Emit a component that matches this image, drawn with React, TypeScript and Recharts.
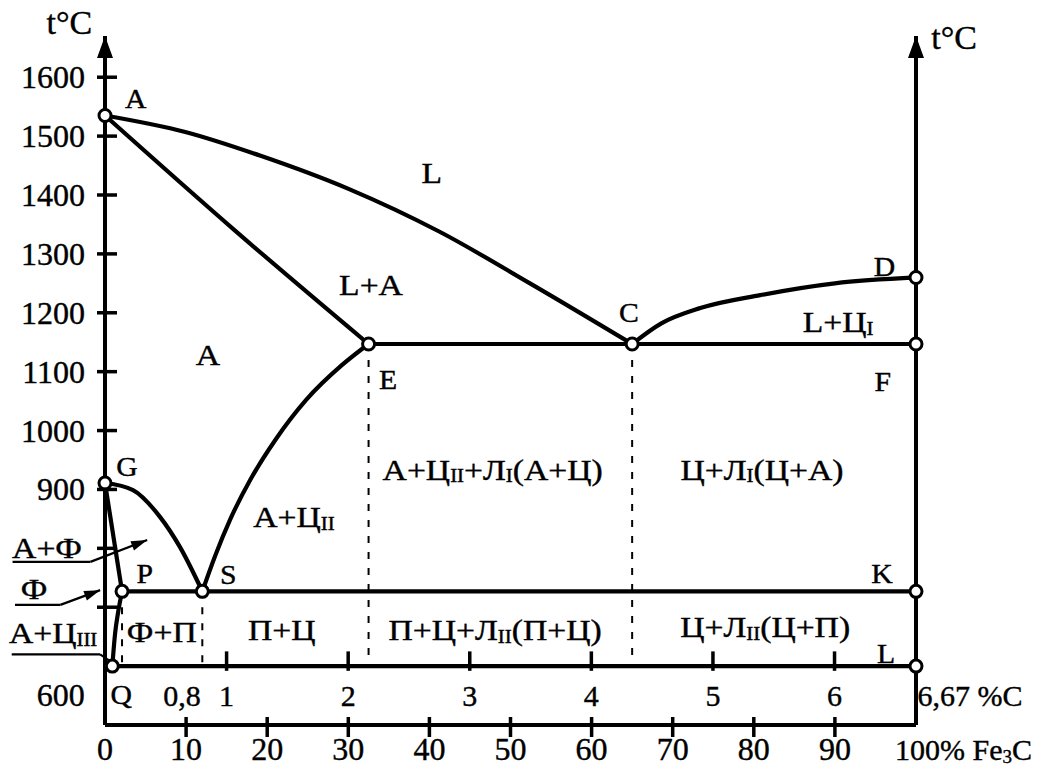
import { ComposedChart, Line, Scatter, XAxis, YAxis, ReferenceLine, ReferenceDot } from 'recharts';

// Fe–Fe3C diagram. c = % Fe3C (0..100), t = °C
const liquidusAC = [
  { c: 0, t: 1535 }, { c: 9.9, t: 1507 }, { c: 19.1, t: 1467 }, { c: 30.1, t: 1410 },
  { c: 41.2, t: 1338 }, { c: 52.4, t: 1250 }, { c: 65, t: 1147 },
];
const liquidusCD = [
  { c: 65, t: 1147 }, { c: 68.6, t: 1182 }, { c: 73.4, t: 1208 }, { c: 80.8, t: 1230 },
  { c: 90, t: 1250 }, { c: 100, t: 1260 },
];
const solidusAE = [{ c: 0, t: 1535 }, { c: 16, t: 1340 }, { c: 32.5, t: 1147 }];
const lineES = [
  { c: 12, t: 727 }, { c: 13.6, t: 788 }, { c: 15.4, t: 848 }, { c: 17.9, t: 916 },
  { c: 21, t: 984 }, { c: 24.8, t: 1052 }, { c: 29.2, t: 1111 }, { c: 32.5, t: 1147 },
];
const lineGS = [{ c: 0, t: 911 }, { c: 3.45, t: 899 }, { c: 6.8, t: 853 }, { c: 9.25, t: 802 }, { c: 12, t: 727 }];
const lineGP = [{ c: 0, t: 911 }, { c: 2.1, t: 727 }];
const linePQ = [{ c: 0.9, t: 600 }, { c: 1.25, t: 656 }, { c: 1.6, t: 690 }, { c: 2.1, t: 727 }];
const lineECF = [{ c: 32.5, t: 1147 }, { c: 100, t: 1147 }];
const linePSK = [{ c: 2.1, t: 727 }, { c: 100, t: 727 }];
const lineQL = [{ c: 0.9, t: 600 }, { c: 100, t: 600 }];

// dashed drops to the 600° line
const drops = [
  [{ c: 2.1, t: 727 }, { c: 2.1, t: 600 }],
  [{ c: 12, t: 727 }, { c: 12, t: 600 }],
  [{ c: 32.5, t: 1147 }, { c: 32.5, t: 600 }],
  [{ c: 65, t: 1147 }, { c: 65, t: 600 }],
];

const nodes = [
  { c: 0, t: 1535 }, { c: 0, t: 911 }, { c: 0.9, t: 600 }, { c: 2.1, t: 727 }, { c: 12, t: 727 },
  { c: 32.5, t: 1147 }, { c: 65, t: 1147 }, { c: 100, t: 1260 }, { c: 100, t: 1147 },
  { c: 100, t: 727 }, { c: 100, t: 600 },
];

const tempTicks = [700, 800, 900, 1000, 1100, 1200, 1300, 1400, 1500, 1600];
const rightTicks = [727, 1147, 1260];
const fe3cTicks = [0, 10, 20, 30, 40, 50, 60, 70, 80, 90, 100];
const carbonTicks = [1, 2, 3, 4, 5, 6];
const C_MAX = 6.67;

// letters next to the nodes
const pointLabels = [
  { text: 'A', c: 3.8, t: 1564 }, { text: 'E', c: 34.9, t: 1086 }, { text: 'C', c: 64.6, t: 1201 },
  { text: 'D', c: 96.1, t: 1279 }, { text: 'F', c: 95.9, t: 1084 }, { text: 'G', c: 2.7, t: 939 },
  { text: 'P', c: 4.9, t: 758 }, { text: 'S', c: 15.2, t: 756 }, { text: 'K', c: 95.8, t: 758 },
  { text: 'L', c: 96.3, t: 622 }, { text: 'Q', c: 2.0, t: 551 },
];

// phase fields, "_" toggles subscript
const phaseLabels = [
  { text: 'L', c: 40.3, t: 1437 },
  { text: 'L+А', c: 32.8, t: 1247 },
  { text: 'А', c: 12.7, t: 1128 },
  { text: 'L+Ц_I', c: 90.4, t: 1184 },
  { text: 'А+Ц_II', c: 23.3, t: 853 },
  { text: 'А+Ц_II_+Л_I_(А+Ц)', c: 47.8, t: 933 },
  { text: 'Ц+Л_I_(Ц+А)', c: 81.0, t: 933 },
  { text: 'Ф+П', c: 7.0, t: 658 },
  { text: 'П+Ц', c: 21.8, t: 661 },
  { text: 'П+Ц+Л_II_(П+Ц)', c: 48.1, t: 661 },
  { text: 'Ц+Л_II_(Ц+П)', c: 81.4, t: 666 },
  { text: 'А+Ф', c: -7.15, t: 800 },
  { text: 'Ф', c: -8.75, t: 732 },
  { text: 'А+Ц_III', c: -6.4, t: 656 },
];

const leaders = [
  { pts: [{ c: -11.4, t: 777 }, { c: -1.8, t: 777 }, { c: 5.2, t: 814 }], arrow: true },
  { pts: [{ c: -11.1, t: 704 }, { c: -5.5, t: 704 }, { c: -0.6, t: 729 }], arrow: true },
  { pts: [{ c: -11.5, t: 620 }, { c: -0.6, t: 620 }, { c: 0.9, t: 606 }], arrow: false },
];

const FONT = '"Liberation Serif", "Times New Roman", serif';
const INK = '#000';

function rich(text: string, size: number) {
  const parts = text.split('_');
  const shift = Math.round(size * 0.22);
  let prevSub = false;
  return parts.map((s, i) => {
    const isSub = i % 2 === 1;
    if (!s) return null;
    const dy = isSub ? shift : prevSub ? -shift : 0;
    prevSub = isSub;
    return (
      <tspan key={i} dy={dy} fontSize={isSub ? Math.round(size * 0.62) : size}>
        {s}
      </tspan>
    );
  });
}

// the scanned lettering is a little wider than Times, so stretch it horizontally
const textShape = (text: string, size: number, anchor: 'start' | 'middle' | 'end' = 'middle', stretch = 1) =>
  (p: any) => (
    <text
      x={0} y={0} transform={`translate(${p.cx},${p.cy}) scale(${stretch},1)`}
      textAnchor={anchor} dominantBaseline="central" fontFamily={FONT} fontSize={size}
      fill={INK} stroke={INK} strokeWidth={0.4}
    >
      {rich(text, size)}
    </text>
  );

const arrowHead = (p: any) => (
  <polygon points={`${p.cx},${p.cy} ${p.cx - 8},${p.cy + 22} ${p.cx + 8},${p.cy + 22}`} fill={INK} />
);

const leaderShape = (arrow: boolean) => (p: any) => {
  const { x1, y1, x2, y2 } = p;
  const a = Math.atan2(y2 - y1, x2 - x1);
  const L = 16, W = 5;
  const bx = x2 - L * Math.cos(a), by = y2 - L * Math.sin(a);
  const nx = -Math.sin(a) * W, ny = Math.cos(a) * W;
  return (
    <g>
      <line x1={x1} y1={y1} x2={x2} y2={y2} stroke={INK} strokeWidth={2.2} />
      {arrow && <polygon points={`${x2},${y2} ${bx + nx},${by + ny} ${bx - nx},${by - ny}`} fill={INK} />}
    </g>
  );
};

const numText = { fontFamily: FONT, fontSize: 32, fill: INK, stroke: INK, strokeWidth: 0.4 };

const LeftTick = (p: any) => {
  const { x, y, payload } = p;
  return (
    <g>
      <line x1={x - 8} x2={x + 12} y1={y} y2={y} stroke={INK} strokeWidth={3.5} />
      {payload.value >= 900 && (
        <text x={x - 20} y={y} textAnchor="end" dominantBaseline="central" {...numText}>
          {payload.value}
        </text>
      )}
    </g>
  );
};

const RightTick = (p: any) => {
  const { x, y, payload } = p;
  return (
    <text x={x + 22} y={y} textAnchor="start" dominantBaseline="central" {...numText}>
      {payload.value}
    </text>
  );
};

const BottomTick = (p: any) => {
  const { x, y, payload } = p;
  const v = payload.value;
  return (
    <g>
      {v > 0 && v < 100 && <line x1={x} x2={x} y1={y - 8} y2={y + 12} stroke={INK} strokeWidth={3.5} />}
      {v === 100 ? (
        <text x={x - 21} y={y + 24} textAnchor="start" dominantBaseline="central" {...numText} fontSize={30}>
          {rich('100% Fe_3_C', 30)}
        </text>
      ) : (
        <text x={x} y={y + 24} textAnchor="middle" dominantBaseline="central" {...numText}>
          {v}
        </text>
      )}
    </g>
  );
};

const curves = [liquidusAC, liquidusCD, solidusAE, lineES, lineGS, lineGP, linePQ, lineECF, linePSK, lineQL];

export default function App() {
  return (
    <div style={{ position: 'absolute', left: 0, top: 0, background: '#fff' }}>
      <ComposedChart width={1045} height={771} margin={{ top: 36, right: 0, bottom: 0, left: 0 }}>
        <XAxis
          type="number" dataKey="c" domain={[0, 100]} ticks={fe3cTicks} height={46}
          axisLine={{ stroke: INK, strokeWidth: 4 }} tickLine={false} tickSize={0} tickMargin={0}
          tick={BottomTick} interval={0}
        />
        <YAxis
          yAxisId="l" type="number" dataKey="t" domain={[500, 1670]} ticks={tempTicks} width={105}
          axisLine={{ stroke: INK, strokeWidth: 4 }} tickLine={false} tickSize={0} tickMargin={0}
          tick={LeftTick} interval={0}
        />
        <YAxis
          yAxisId="r" orientation="right" type="number" dataKey="t" domain={[500, 1670]} ticks={rightTicks} width={129}
          axisLine={{ stroke: INK, strokeWidth: 4 }} tickLine={false} tickSize={0} tickMargin={0}
          tick={RightTick} interval={0}
        />

        {drops.map((d, i) => (
          <Line key={`drop${i}`} yAxisId="l" data={d} dataKey="t" type="linear" stroke={INK}
            strokeWidth={2} strokeDasharray="7 9" dot={false} activeDot={false} isAnimationActive={false} />
        ))}
        {curves.map((d, i) => (
          <Line key={`curve${i}`} yAxisId="l" data={d} dataKey="t" type="monotone" stroke={INK}
            strokeWidth={4.2} dot={false} activeDot={false} isAnimationActive={false} />
        ))}

        {carbonTicks.map((v) => (
          <ReferenceLine key={`ct${v}`} yAxisId="l" ifOverflow="visible" stroke={INK} strokeWidth={3.5}
            segment={[{ x: (v / C_MAX) * 100, y: 592 }, { x: (v / C_MAX) * 100, y: 625 }]} />
        ))}
        {carbonTicks.map((v) => (
          <ReferenceDot key={`cl${v}`} yAxisId="l" x={(v / C_MAX) * 100} y={551} ifOverflow="visible"
            shape={textShape(String(v), 30)} />
        ))}
        <ReferenceDot yAxisId="l" x={9.5} y={551} ifOverflow="visible" shape={textShape('0,8', 30)} />
        <ReferenceDot yAxisId="l" x={-2.5} y={551} ifOverflow="visible" shape={textShape('600', 32, 'end')} />
        <ReferenceDot yAxisId="l" x={100.2} y={551} ifOverflow="visible" shape={textShape('6,67 %C', 30, 'start')} />

        {leaders.flatMap((ld, i) =>
          ld.pts.slice(1).map((pt, j) => (
            <ReferenceLine key={`ld${i}-${j}`} yAxisId="l" ifOverflow="visible"
              segment={[{ x: ld.pts[j].c, y: ld.pts[j].t }, { x: pt.c, y: pt.t }]}
              shape={leaderShape(ld.arrow && j === ld.pts.length - 2)} />
          ))
        )}

        {phaseLabels.map((l, i) => (
          <ReferenceDot key={`ph${i}`} yAxisId="l" x={l.c} y={l.t} ifOverflow="visible"
            shape={textShape(l.text, 29, 'middle', 1.16)} />
        ))}
        {pointLabels.map((l, i) => (
          <ReferenceDot key={`pt${i}`} yAxisId="l" x={l.c} y={l.t} ifOverflow="visible"
            shape={textShape(l.text, 27, 'middle', 1.1)} />
        ))}

        <ReferenceDot yAxisId="l" x={0} y={1670} ifOverflow="visible" shape={arrowHead} />
        <ReferenceDot yAxisId="l" x={100} y={1670} ifOverflow="visible" shape={arrowHead} />
        <ReferenceDot yAxisId="l" x={-4.4} y={1693} ifOverflow="visible" shape={textShape('t°C', 34)} />
        <ReferenceDot yAxisId="l" x={104.7} y={1668} ifOverflow="visible" shape={textShape('t°C', 34)} />

        <Scatter yAxisId="l" data={nodes} dataKey="t" isAnimationActive={false}
          shape={(p: any) => <circle cx={p.cx} cy={p.cy} r={6} fill="#fff" stroke={INK} strokeWidth={3} />} />
      </ComposedChart>
    </div>
  );
}
